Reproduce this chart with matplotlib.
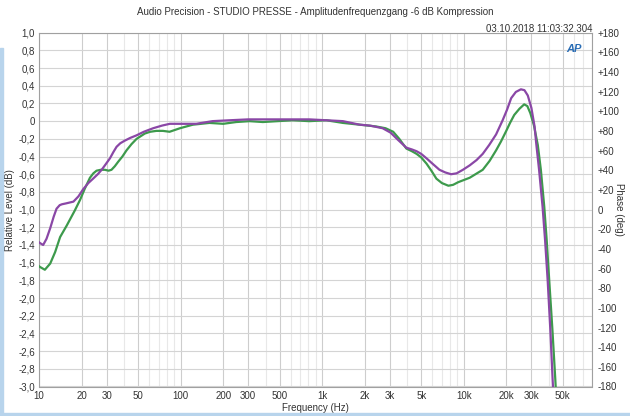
import numpy as np
import matplotlib.pyplot as plt
from matplotlib.patches import Rectangle
from matplotlib.ticker import FixedLocator, NullFormatter

plt.rcParams['font.family'] = ['Liberation Sans', 'DejaVu Sans']

# purple trace (Hz, dB)
freq_a = [10, 10.2, 10.7, 11.3, 12.0, 12.7, 13.3, 14.0, 14.5, 15.5, 17.5, 19.0, 20.5, 22.3, 24.1,
          26.0, 27.7, 29.5, 31.7, 33.5, 35.3, 37.5, 40.4, 44, 48.9, 55, 64, 74, 84, 100, 129,
          168, 222, 300, 380, 500, 620, 810, 1070, 1400, 1840, 2170, 2670, 3040, 3420, 3930,
          4300, 4640, 5000, 5450, 6000, 6730, 7400, 8130, 8900, 9850, 11000, 12300, 13600, 15100,
          16900, 18800, 20200, 21600, 23300, 25300, 26800, 28300, 30000, 31600, 32400, 34000,
          36000, 37500, 39100, 40800, 42400, 43500]
level_a = [-1.37, -1.38, -1.40, -1.33, -1.21, -1.08, -0.99, -0.95, -0.94, -0.93, -0.91, -0.85, -0.77, -0.70, -0.65,
           -0.60, -0.55, -0.49, -0.42, -0.35, -0.29, -0.25, -0.22, -0.19, -0.16, -0.12, -0.08, -0.05, -0.03, -0.03, -0.03,
           0.00, 0.01, 0.02, 0.02, 0.02, 0.02, 0.02, 0.01, 0.00, -0.04, -0.05, -0.08, -0.13, -0.21, -0.30,
           -0.32, -0.34, -0.37, -0.42, -0.48, -0.55, -0.58, -0.60, -0.59, -0.55, -0.50, -0.44, -0.37, -0.27,
           -0.15, 0.01, 0.13, 0.26, 0.33, 0.36, 0.35, 0.29, 0.15, -0.06, -0.24, -0.55,
           -0.97, -1.35, -1.80, -2.35, -2.93, -3.30]

# green trace (Hz, dB)
freq_b = [10, 10.2, 11.0, 12.0, 13.0, 14.1, 15.7, 17.9, 19.5, 21.1, 22.9, 24.2, 25.5, 27.3, 29.2,
          31.0, 32.5, 34.3, 36.2, 38.8, 41.5, 45, 48.9, 55.9, 61, 67.5, 75, 83.6, 99, 122, 160,
          200, 247, 307, 381, 484, 620, 810, 1070, 1400, 1840, 2400, 2800, 3170, 3500, 3930,
          4300, 4640, 5000, 5450, 5900, 6400, 7000, 7780, 8400, 9130, 11000, 13600, 15200, 16900,
          18300, 19800, 21200, 22700, 24700, 26700, 28100, 29500, 31300, 33300, 35000, 37000,
          38500, 40100, 42200, 44300, 45500]
level_b = [-1.64, -1.65, -1.68, -1.61, -1.48, -1.31, -1.18, -1.01, -0.89, -0.76, -0.64, -0.59, -0.56, -0.55, -0.55,
           -0.56, -0.55, -0.51, -0.46, -0.40, -0.33, -0.26, -0.20, -0.14, -0.12, -0.11, -0.11, -0.12, -0.08, -0.04, -0.02,
           -0.03, -0.01, 0.00, -0.01, 0.00, 0.01, 0.00, 0.01, -0.02, -0.04, -0.06, -0.08, -0.12, -0.20, -0.31,
           -0.34, -0.37, -0.41, -0.48, -0.56, -0.65, -0.70, -0.73, -0.72, -0.69, -0.64, -0.55, -0.45, -0.33,
           -0.23, -0.12, -0.02, 0.07, 0.14, 0.19, 0.17, 0.09, -0.05, -0.27, -0.55, -0.97,
           -1.35, -1.80, -2.35, -2.93, -3.30]

xtick_vals = [10, 20, 30, 50, 100, 200, 300, 500, 1000, 2000, 3000, 5000, 10000, 20000, 30000, 50000]
xtick_labels = ['10', '20', '30', '50', '100', '200', '300', '500', '1k', '2k', '3k', '5k',
                '10k', '20k', '30k', '50k']
level_ticks = np.arange(-3.0, 1.01, 0.2)
phase_ticks = np.arange(-180, 181, 20)

fig = plt.figure(figsize=(6.3, 4.16), dpi=100)
ax = fig.add_axes([39 / 630, 1 - 386.5 / 416, (591.7 - 39) / 630, (386.5 - 32.7) / 416])

minor = [m * d for d in [10, 100, 1000, 10000] for m in range(2, 10)]
minor = [v for v in minor if v not in xtick_vals and v <= 80000]
for v in minor:
    ax.axvline(v, color='#e8e8e8', lw=0.8, zorder=0)
for v in xtick_vals:
    ax.axvline(v, color='#cdcdcd', lw=0.8, zorder=0)
for v in level_ticks:
    ax.axhline(v, color='#d4d4d4', lw=0.8, zorder=0)

ax.plot(freq_b, level_b, color='#3d9a4c', lw=1.6, zorder=3)
ax.plot(freq_a, level_a, color='#8a47a6', lw=1.6, zorder=4)

ax.set_xscale('log')
ax.set_xlim(10, 80000)
ax.set_ylim(-3.0, 1.0)
ax.xaxis.set_major_locator(FixedLocator(xtick_vals))
ax.set_xticklabels(xtick_labels)
ax.xaxis.set_minor_formatter(NullFormatter())
ax.tick_params(axis='x', which='minor', length=0)
ax.set_yticks(level_ticks)
ax.set_yticklabels(['0' if abs(v) < 1e-9 else '{:.1f}'.format(v).replace('.', ',') for v in level_ticks])
ax.tick_params(length=0, labelsize=7, colors='#333333', pad=3)
for s in ax.spines.values():
    s.set_color('#a0a0a0')
    s.set_linewidth(0.8)
ax.set_xlabel('Frequency (Hz)', fontsize=7, labelpad=2, color='#333333')
ax.set_ylabel('Relative Level (dB)', fontsize=7, labelpad=2, color='#333333')

ax2 = ax.twinx()
ax2.set_ylim(-180, 180)
ax2.set_yticks(phase_ticks)
ax2.set_yticklabels(['+{}'.format(v) if v > 0 else str(v) for v in phase_ticks])
ax2.tick_params(length=0, labelsize=7, colors='#333333', pad=4)
for s in ax2.spines.values():
    s.set_visible(False)
ax2.set_ylabel('Phase (deg)', fontsize=7, rotation=-90, labelpad=1, color='#333333')
ax2.yaxis.set_label_coords(1.0 + 32 / 552.7, 0.5)

ax.text(0.968, 0.955, 'AP', transform=ax.transAxes, fontsize=8, fontweight='bold',
        style='italic', color='#2a6db5', ha='center', va='center', zorder=5)

fig.text(0.5, 0.971, 'Audio Precision - STUDIO PRESSE - Amplitudenfrequenzgang -6 dB Kompression',
         ha='center', va='center', fontsize=7, color='#333333')
fig.text(592 / 630, 1 - 29 / 416, '03.10.2018 11:03:32.304', ha='right', va='center',
         fontsize=7, color='#333333')

# window frame strips
fig.patches.append(Rectangle((0, 0), 3 / 630, 1 - 48 / 416, transform=fig.transFigure,
                             color='#b8d4ec', zorder=0))
fig.patches.append(Rectangle((0, 0), 1, 3 / 416, transform=fig.transFigure,
                             color='#b8d4ec', zorder=0))

fig.savefig('out.png', dpi=100)
